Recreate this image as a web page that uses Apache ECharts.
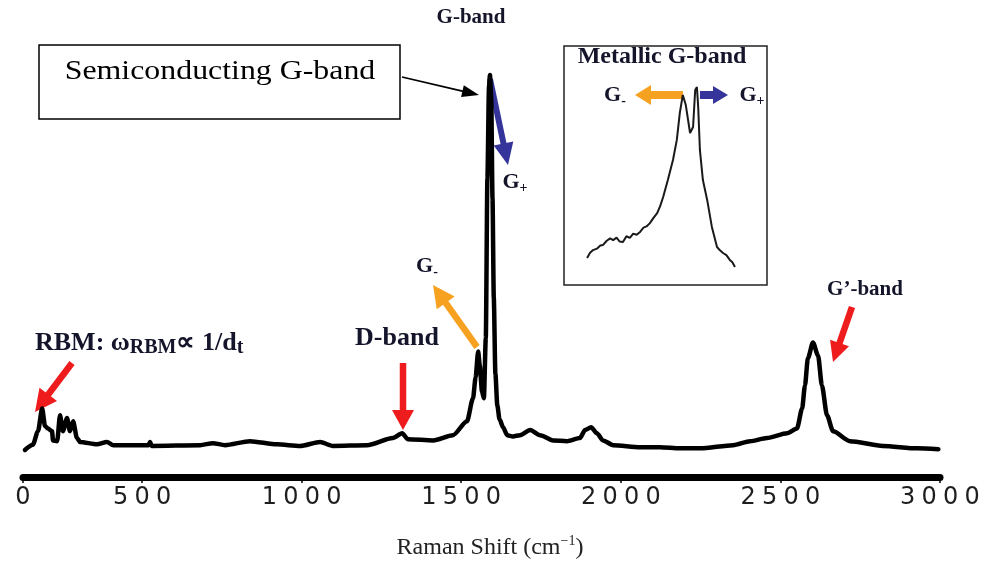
<!DOCTYPE html>
<html>
<head>
<meta charset="utf-8">
<script src="https://cdn.jsdelivr.net/npm/echarts@6/dist/echarts.min.js"></script>
<style>
  html, body { margin: 0; padding: 0; background: #fff; }
  #chart { width: 994px; height: 565px; }
</style>
</head>
<body>
<div id="chart"></div>
<script>
// main spectrum (Raman shift in cm-1, intensity in arbitrary units)
const ramanShift = [133, 158, 174, 187, 196, 205, 218, 221, 234, 243, 252, 265, 274, 284, 296, 306, 359, 390, 410, 520, 525, 530,
  682, 722, 760, 838, 923, 995, 1058, 1098, 1205, 1286, 1315, 1333, 1412, 1474, 1518, 1537, 1545, 1553, 1558, 1565, 1571,
  1577, 1582, 1587, 1590, 1594, 1598, 1602, 1607, 1613, 1620, 1631, 1644, 1662, 1684, 1716, 1747, 1788, 1831, 1872, 1888,
  1907, 1925, 1944, 1976, 2060, 2123, 2185, 2248, 2352, 2405, 2458, 2521, 2552, 2568, 2577, 2586, 2602, 2618, 2630, 2646,
  2665, 2718, 2821, 2928, 2995];
const intensity = [6.8, 8.1, 11.5, 17.2, 12.8, 12.2, 11.5, 9.2, 9.0, 15.5, 11.5, 14.8, 11.5, 14.0, 9.8, 8.8, 8.2, 8.8, 8.0, 8.0, 8.8, 7.8,
  8.0, 8.5, 8.0, 9.0, 8.2, 7.8, 8.8, 7.8, 8.0, 9.8, 11.0, 9.5, 9.2, 10.5, 14.0, 19.8, 25.0, 31.5, 28.0, 21.5, 19.8,
  35, 75, 98, 101, 95, 70, 45, 26, 18, 14.5, 12.5, 10.5, 10.2, 10.5, 11.8, 10.5, 9.2, 9.0, 9.8, 11.8,
  12.5, 11.0, 9.2, 8.0, 7.5, 7.5, 7.2, 7.2, 8.0, 9.0, 9.8, 11.0, 12.2, 17.2, 23.0, 29.8, 33.8, 30.5, 23.0, 15.5,
  11.5, 9.0, 7.8, 7.2, 7.0];

// inset: metallic G-band
const insetShift = [1329, 1336, 1343, 1352, 1360, 1366, 1375, 1383, 1390, 1398, 1405, 1413, 1421, 1429, 1437, 1445, 1453, 1461,
  1468, 1476, 1484, 1493, 1500, 1507, 1518, 1530, 1539, 1546, 1553, 1560, 1570, 1577, 1582, 1586, 1589, 1593, 1600,
  1610, 1621, 1633, 1640, 1647, 1655, 1663, 1669, 1675];
const insetIntensity = [11.3, 13.5, 14.6, 15.2, 16.5, 16.7, 18.5, 19.5, 18.8, 19.8, 18.2, 18.0, 20.4, 19.7, 21.5, 21.0, 22.2, 24.0,
  24.5, 25.9, 28.0, 30.1, 33.0, 36.8, 43.9, 52.3, 60.7, 72.0, 79.5, 75.3, 63.6, 66.1, 81.6, 82.8, 74.5, 56.5, 43.9,
  35.6, 24.3, 15.9, 14.5, 13.4, 12.5, 10.5, 9.5, 7.5];

const xMin = 127, xMax = 3000;
const tickValues = [xMin, 500, 1000, 1500, 2000, 2500, 3000];
const tickLabels = ['0', '500', '1000', '1500', '2000', '2500', '3000'];

const ink = '#14142b';
const serif = 'Liberation Serif';
const red = '#ee1c1c', orange = '#f7a120', blue = '#34349a';

function arrow(x1, y1, x2, y2, color, w, headL, headW) {
  const len = Math.hypot(x2 - x1, y2 - y1);
  const ux = (x2 - x1) / len, uy = (y2 - y1) / len;
  const bx = x2 - ux * headL, by = y2 - uy * headL;
  const px = -uy * headW / 2, py = ux * headW / 2;
  return [
    { type: 'line', silent: true, shape: { x1: x1, y1: y1, x2: bx + ux, y2: by + uy }, style: { stroke: color, lineWidth: w } },
    { type: 'polygon', silent: true, shape: { points: [[x2, y2], [bx + px, by + py], [bx - px, by - py]] }, style: { fill: color } }
  ];
}

function tok(size, extra) {
  return Object.assign({ fontFamily: serif, fontWeight: 'bold', fontSize: size, fill: ink, lineHeight: size + 4, verticalAlign: 'middle' }, extra || {});
}

function txt(x, y, text, size, opts) {
  opts = opts || {};
  return {
    type: 'text', x: x, y: y, scaleX: opts.scaleX || 1, silent: true,
    style: {
      text: text, x: 0, y: 0, fill: opts.color || ink, fontFamily: serif,
      fontWeight: opts.weight || 'bold', fontSize: size,
      align: opts.align || 'center', textAlign: opts.align || 'center',
      verticalAlign: 'middle', textVerticalAlign: 'middle',
      rich: opts.rich
    }
  };
}

const subRich = {
  g: tok(22),
  s: tok(14, { lineHeight: 13, verticalAlign: 'bottom' })
};

const graphics = [].concat(
  [{ type: 'rect', silent: true, shape: { x: 39, y: 45, width: 361, height: 74 }, style: { fill: '#fff', stroke: '#000', lineWidth: 1.5 } }],
  [txt(220, 72, 'Semiconducting G-band', 27, { weight: 'normal', color: '#000', scaleX: 1.18 })],
  arrow(402, 77, 479, 95, '#000', 1.6, 17, 12),
  arrow(490, 79, 508, 165, blue, 6, 22, 20),
  arrow(477, 347, 433, 285, orange, 6.5, 22, 22),
  arrow(72, 363, 35, 412, red, 6.5, 22, 22),
  arrow(403, 363, 403, 430, red, 6.5, 20, 22),
  arrow(852, 307, 833, 362, red, 6.5, 20, 20),
  arrow(683, 95, 635, 95, orange, 8, 16, 20),
  arrow(700, 95, 728, 95, blue, 8, 15, 18),
  [
    txt(471, 18, 'G-band', 21),
    txt(515, 182, '{g|G}{s|+}', 22, { rich: subRich }),
    txt(427, 266, '{g|G}{s|-}', 22, { rich: subRich }),
    txt(35, 343, '{b|RBM: ω}{s|RBM}{b|∝ 1/d}{s|t}', 26, {
      align: 'left',
      rich: { b: tok(26), s: tok(20, { lineHeight: 18, verticalAlign: 'bottom' }) }
    }),
    txt(397, 338, 'D-band', 26),
    txt(865, 290, 'G’-band', 21),
    txt(662, 57, 'Metallic G-band', 24),
    txt(615, 95, '{g|G}{s|-}', 22, { rich: subRich }),
    txt(752, 95, '{g|G}{s|+}', 22, { rich: subRich })
  ]
);

const chart = echarts.init(document.getElementById('chart'), null, { renderer: 'canvas' });
chart.setOption({
  animation: false,
  backgroundColor: '#fff',
  grid: [
    { left: 23, right: 54, top: 59, bottom: 86 },
    { left: 564, top: 46, width: 203, height: 239, show: true, borderColor: '#222', borderWidth: 1.5, backgroundColor: 'transparent' }
  ],
  xAxis: [
    {
      type: 'value', gridIndex: 0, min: xMin, max: xMax,
      axisLine: { show: true, onZero: false, lineStyle: { color: '#000', width: 7 } },
      axisTick: { show: true, customValues: tickValues, length: 6, lineStyle: { color: '#000', width: 1.5 } },
      axisLabel: {
        customValues: tickValues, margin: 9,
        formatter: function (v) {
          const i = tickValues.indexOf(v);
          const s = i >= 0 ? tickLabels[i] : String(v);
          return s.split('').map(c => '{d|' + c + '}').join('');
        },
        rich: { d: { width: 21.5, align: 'center', fontFamily: 'DejaVu Sans', fontSize: 24, color: '#1e1e1e' } }
      },
      splitLine: { show: false },
      name: '{a|Raman Shift (cm}{u|−1}{a|)}',
      nameLocation: 'middle', nameGap: 57,
      nameTextStyle: {
        padding: [0, 0, 0, 17],
        rich: {
          a: { fontFamily: serif, fontSize: 24, color: '#222', lineHeight: 28, verticalAlign: 'middle' },
          u: { fontFamily: serif, fontSize: 14, color: '#222', lineHeight: 14, verticalAlign: 'top' }
        }
      }
    },
    { type: 'value', gridIndex: 1, min: 1275, max: 1750, show: false }
  ],
  yAxis: [
    { type: 'value', gridIndex: 0, min: 0, max: 105, show: false },
    { type: 'value', gridIndex: 1, min: 0, max: 100, show: false }
  ],
  series: [
    {
      type: 'line', xAxisIndex: 0, yAxisIndex: 0, symbol: 'none', silent: true,
      smooth: 0.25, smoothMonotone: 'x',
      data: ramanShift.map((x, i) => [x, intensity[i]]),
      lineStyle: { color: '#000', width: 4.5, join: 'round', cap: 'round' }
    },
    {
      type: 'line', xAxisIndex: 1, yAxisIndex: 1, symbol: 'none', silent: true,
      data: insetShift.map((x, i) => [x, insetIntensity[i]]),
      lineStyle: { color: '#1a1a1a', width: 2 }
    }
  ],
  graphic: graphics
});
</script>
</body>
</html>
